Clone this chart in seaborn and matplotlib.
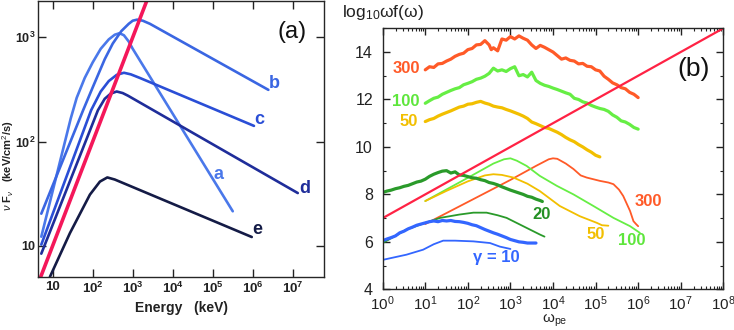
import numpy as np
import pandas as pd
import matplotlib
matplotlib.use("Agg")
import matplotlib.pyplot as plt
import seaborn as sns
from matplotlib.ticker import FixedLocator, FixedFormatter, LogLocator, NullFormatter, MultipleLocator

# ---------------- Panel (a) data: log10(E / keV), log10(nu F_nu) ----------------
a_logE = [0.715, 1.45, 1.6, 1.8, 2.0, 2.2, 2.4, 2.55, 2.67, 2.78, 2.9, 3.0, 5.5]
a_logF = [1.086, 2.22, 2.42, 2.61, 2.76, 2.89, 2.98, 3.025, 3.04, 3.02, 2.96, 2.89, 1.33]
b_logE = [0.715, 1.76, 2.0, 2.3, 2.5, 2.715, 2.9, 3.0, 3.11, 3.25, 3.43, 6.39]
b_logF = [1.307, 2.30, 2.52, 2.79, 2.94, 3.06, 3.13, 3.16, 3.17, 3.16, 3.13, 2.496]
c_logE = [0.715, 1.96, 2.2, 2.4, 2.6, 2.78, 2.95, 3.18, 6.03]
c_logF = [1.01, 2.30, 2.48, 2.58, 2.64, 2.66, 2.645, 2.61, 2.15]
d_logE = [0.715, 2.13, 2.3, 2.45, 2.6, 2.75, 2.88, 7.125]
d_logF = [0.923, 2.30, 2.41, 2.46, 2.48, 2.465, 2.44, 1.505]
e_logE = [0.93, 1.43, 1.93, 2.18, 2.365, 2.55, 5.975]
e_logF = [0.70, 1.12, 1.49, 1.615, 1.655, 1.635, 1.083]
red_a_logE = [0.6, 3.4]
red_a_logF = [0.6, 3.4]
curve_names_a = ["a", "b", "c", "d", "e"]
label_pos_a = {"a": (5.14, 1.68), "b": (6.53, 2.56), "c": (6.165, 2.215),
               "d": (7.29, 1.553), "e": (6.10, 1.153)}
xticks_a = [1, 2, 3, 4, 5, 6, 7]
yticks_a = [1, 2, 3]

# ---------------- Panel (b) data: log10(omega_pe), log10 omega f(omega) ----------------
# thick (noisy) curves
t300_x = [1.0, 1.1, 1.2, 1.3, 1.4, 1.5, 1.6, 1.7, 1.8, 1.9, 2.0, 2.1, 2.2, 2.3, 2.4, 2.5, 2.55, 2.6, 2.7, 2.8,
          2.9, 3.0, 3.1, 3.2, 3.3, 3.4, 3.5, 3.6, 3.7, 3.8, 3.9, 4.0, 4.1, 4.2, 4.3, 4.4, 4.5, 4.6, 4.7, 4.8,
          4.9, 5.0, 5.1, 5.2, 5.3, 5.4, 5.5, 5.6, 5.7, 5.8, 5.9, 6.0]
t300_y = [13.25, 13.38, 13.35, 13.5, 13.52, 13.62, 13.7, 13.82, 13.9, 13.95, 14.1, 14.15, 14.3, 14.32, 14.48, 14.3, 14.1, 14.18, 14.05, 14.55,
          14.5, 14.65, 14.55, 14.68, 14.58, 14.5, 14.3, 14.15, 14.28, 14.2, 14.1, 14.0, 13.85, 13.7, 13.75, 13.65, 13.62, 13.5, 13.52, 13.4,
          13.38, 13.25, 13.2, 12.98, 12.85, 12.7, 12.62, 12.5, 12.45, 12.3, 12.22, 12.08]
t100_x = [1.0, 1.1, 1.2, 1.3, 1.4, 1.5, 1.6, 1.7, 1.8, 1.9, 2.0, 2.1, 2.2, 2.3, 2.4, 2.5, 2.6, 2.7, 2.8, 2.9,
          3.0, 3.1, 3.2, 3.3, 3.4, 3.5, 3.6, 3.7, 3.8, 3.9, 4.0, 4.1, 4.2, 4.3, 4.4, 4.5, 4.6, 4.7, 4.8, 4.9,
          5.0, 5.1, 5.2, 5.3, 5.4, 5.5, 5.6, 5.7, 5.8, 5.9, 6.0]
t100_y = [11.84, 11.95, 12.05, 12.1, 12.22, 12.3, 12.38, 12.45, 12.5, 12.62, 12.68, 12.75, 12.85, 12.9, 12.98, 13.1, 13.32, 13.2, 13.25, 13.18,
          13.3, 13.38, 13.0, 13.05, 12.95, 13.15, 12.8, 12.68, 12.6, 12.55, 12.48, 12.42, 12.35, 12.28, 12.22, 12.05, 12.0, 11.9, 11.85, 11.75,
          11.68, 11.62, 11.58, 11.5, 11.35, 11.25, 11.1, 11.05, 10.95, 10.82, 10.75]
t50_x = [1.0, 1.1, 1.2, 1.3, 1.4, 1.5, 1.6, 1.7, 1.8, 1.9, 2.0, 2.1, 2.2, 2.3, 2.4, 2.5, 2.6, 2.7, 2.8, 2.9,
         3.0, 3.1, 3.2, 3.3, 3.4, 3.5, 3.6, 3.7, 3.8, 3.9, 4.0, 4.1, 4.2, 4.3, 4.4, 4.5, 4.6, 4.7, 4.8, 4.9,
         5.0, 5.1]
t50_y = [11.07, 11.15, 11.2, 11.3, 11.38, 11.45, 11.52, 11.6, 11.68, 11.72, 11.8, 11.82, 11.88, 11.92, 11.85, 11.8, 11.72, 11.68, 11.65, 11.58,
         11.52, 11.45, 11.38, 11.3, 11.2, 11.05, 10.98, 10.9, 10.82, 10.78, 10.7, 10.62, 10.52, 10.4, 10.3, 10.22, 10.1, 10.0, 9.88, 9.78,
         9.65, 9.58]
t20_x = [0.0, 0.1, 0.2, 0.3, 0.4, 0.5, 0.6, 0.7, 0.8, 0.9, 1.0, 1.1, 1.2, 1.3, 1.4, 1.5, 1.6, 1.7, 1.8, 1.9,
         2.0, 2.1, 2.2, 2.3, 2.4, 2.5, 2.6, 2.7, 2.8, 2.9, 3.0, 3.1, 3.2, 3.3, 3.4, 3.5, 3.6, 3.7, 3.75]
t20_y = [8.08, 8.14, 8.18, 8.24, 8.28, 8.34, 8.38, 8.45, 8.52, 8.56, 8.64, 8.76, 8.85, 8.92, 8.98, 9.0, 8.9, 8.95, 8.82, 8.8,
         8.75, 8.7, 8.68, 8.62, 8.58, 8.5, 8.46, 8.4, 8.32, 8.25, 8.18, 8.12, 8.06, 8.0, 7.92, 7.88, 7.8, 7.74, 7.7]
t10_x = [0.0, 0.1, 0.2, 0.3, 0.4, 0.5, 0.6, 0.7, 0.8, 0.9, 1.0, 1.1, 1.2, 1.3, 1.4, 1.5, 1.6, 1.7, 1.8, 1.9,
         2.0, 2.1, 2.2, 2.3, 2.4, 2.5, 2.6, 2.7, 2.8, 2.9, 3.0, 3.1, 3.2, 3.3, 3.4, 3.5, 3.6]
t10_y = [6.05, 6.12, 6.18, 6.25, 6.38, 6.45, 6.55, 6.62, 6.7, 6.75, 6.8, 6.85, 6.88, 6.85, 6.9, 6.88, 6.9, 6.86, 6.85, 6.82,
         6.78, 6.72, 6.68, 6.6, 6.52, 6.45, 6.38, 6.32, 6.25, 6.18, 6.1, 6.05, 6.0, 5.98, 5.95, 5.95, 5.95]
# thin (smooth) curves
s300_x = [1.0, 2.0, 3.0, 3.6, 3.9, 4.0, 4.1, 4.3, 4.48, 4.65, 4.79, 5.1, 5.3, 5.42, 5.55, 5.65, 5.81, 5.89, 5.95, 6.0]
s300_y = [6.75, 7.68, 8.61, 9.2, 9.48, 9.52, 9.5, 9.3, 9.07, 8.8, 8.71, 8.57, 8.5, 8.43, 8.2, 7.93, 7.3, 6.87, 6.75, 6.66]
s100_x = [1.0, 2.0, 2.6, 2.85, 3.0, 3.15, 3.38, 3.69, 4.09, 4.48, 4.95, 5.42, 5.81, 6.04]
s100_y = [7.72, 8.7, 9.3, 9.48, 9.52, 9.42, 9.2, 8.78, 8.36, 8.0, 7.51, 7.01, 6.66, 6.38]
s50_x = [1.0, 1.5, 2.0, 2.4, 2.6, 2.8, 3.07, 3.4, 3.69, 4.16, 4.63, 5.03, 5.15, 5.3]
s50_y = [7.72, 8.15, 8.55, 8.8, 8.85, 8.82, 8.71, 8.45, 8.14, 7.51, 7.08, 6.8, 6.7, 6.68]
s20_x = [0.0, 0.56, 1.0, 1.35, 1.8, 2.13, 2.44, 2.7, 2.91, 3.3, 3.69, 3.8]
s20_y = [5.95, 6.52, 6.8, 7.01, 7.15, 7.23, 7.23, 7.12, 7.01, 6.66, 6.31, 6.22]
s10_x = [0.0, 0.56, 0.95, 1.2, 1.42, 1.7, 2.13, 2.52, 2.75, 3.0]
s10_y = [5.24, 5.46, 5.67, 5.9, 6.05, 6.05, 6.02, 5.95, 5.8, 5.7]
red_b_x = [0.0, 8.0]
red_b_y = [7.0, 15.0]
labels_b = [("300", 0.55, 13.31, "#ff5a28"), ("100", 0.55, 11.92, "#5ee63c"), ("50", 0.62, 11.09, "#f2bf00"),
            ("20", 3.73, 7.16, "#249024"), ("γ = 10", 2.68, 5.32, "#3366ff"), ("50", 5.01, 6.31, "#f2bf00"),
            ("100", 5.85, 6.06, "#5ee63c"), ("300", 6.24, 7.69, "#ff5a28")]
xticks_b = [0, 1, 2, 3, 4, 5, 6, 7, 8]
yticks_b = [4, 6, 8, 10, 12, 14]

# ---------------- style ----------------
sns.set_style("ticks")
plt.rcParams['font.family'] = ['Liberation Sans', 'DejaVu Sans']
plt.rcParams['mathtext.fontset'] = 'custom'
plt.rcParams['mathtext.rm'] = 'Liberation Sans'
plt.rcParams['mathtext.it'] = 'Liberation Sans:italic'
plt.rcParams['mathtext.bf'] = 'Liberation Sans:bold'
plt.rcParams['axes.linewidth'] = 1.0

fig = plt.figure(figsize=(7.34, 3.30), dpi=100)
axA = fig.add_axes([38 / 734, 53 / 330, 286 / 734, 276 / 330])
axB = fig.add_axes([382.7 / 734, 40.7 / 330, 340.6 / 734, 261 / 330])

def P(v):
    return np.power(10.0, np.asarray(v, dtype=float))

# ---------------- Panel (a) ----------------
axA.set_xscale('log')
axA.set_yscale('log')
colors_a = {"a": "#4a78ea", "b": "#3a66e2", "c": "#2a4ed6", "d": "#1f2d9a", "e": "#141b46"}
data_a = {"a": (a_logE, a_logF), "b": (b_logE, b_logF), "c": (c_logE, c_logF),
          "d": (d_logE, d_logF), "e": (e_logE, e_logF)}
for name in curve_names_a:
    xe, yf = data_a[name]
    df = pd.DataFrame({"E": P(xe), "F": P(yf)})
    sns.lineplot(data=df, x="E", y="F", ax=axA, color=colors_a[name], lw=1.9,
                 sort=False, estimator=None, legend=False)
    lx, ly = label_pos_a[name]
    axA.text(P(lx), P(ly), name, color=colors_a[name], fontsize=13, fontweight='bold',
             ha='center', va='center')
dfr = pd.DataFrame({"E": P(red_a_logE), "F": P(red_a_logF)})
sns.lineplot(data=dfr, x="E", y="F", ax=axA, color="#f4175a", lw=2.6, sort=False,
             estimator=None, legend=False)
axA.set_xlim(4.29, 6.03e7)
axA.set_ylim(5.0, 2234)
axA.xaxis.set_major_locator(FixedLocator(P(xticks_a)))
axA.xaxis.set_major_formatter(FixedFormatter(["10"] + [r"$\mathbf{10^{%d}}$" % k for k in xticks_a[1:]]))
axA.yaxis.set_major_locator(FixedLocator(P(yticks_a)))
axA.yaxis.set_major_formatter(FixedFormatter(["10"] + [r"$\mathbf{10^{%d}}$" % k for k in yticks_a[1:]]))
axA.xaxis.set_minor_locator(FixedLocator([]))
axA.yaxis.set_minor_locator(FixedLocator([]))
axA.tick_params(which='major', direction='in', length=6, width=1, top=True, right=True,
                labelsize=9.5, pad=3, color='#222222')
axA.tick_params(axis='y', pad=2, labelsize=9)
for t in axA.get_xticklabels() + axA.get_yticklabels():
    t.set_fontweight('bold')
    t.set_color('#222222')
axA.set_xlabel("")
axA.set_ylabel("")
axA.text(P(6.975), P(3.055), "(a)", fontsize=17, ha='center', va='center', color='#111111')
fig.text(181.7 / 734, 1 - 308 / 330, "Energy   (keV)", fontsize=10, fontweight='bold',
         ha='center', va='center', color='#222222')
fig.text(8.5 / 734, 1 - 166 / 330, r"$\nu$ F$_\nu$   (keV/cm$^2$/s)", fontsize=8, fontweight='bold',
         rotation=90, ha='center', va='center', color='#222222')

# ---------------- Panel (b) ----------------
axB.set_xscale('log')
thin = [(s300_x, s300_y, "#ff5a28"), (s100_x, s100_y, "#66ee44"), (s50_x, s50_y, "#f2bf00"),
        (s20_x, s20_y, "#2a9a2a"), (s10_x, s10_y, "#3366ff")]
thick = [(t300_x, t300_y, "#ff5a28"), (t100_x, t100_y, "#66ee44"), (t50_x, t50_y, "#f2bf00"),
         (t20_x, t20_y, "#2a9a2a"), (t10_x, t10_y, "#3366ff")]
for xs, ys, col in thin:
    df = pd.DataFrame({"w": P(xs), "f": ys})
    sns.lineplot(data=df, x="w", y="f", ax=axB, color=col, lw=1.3, sort=False,
                 estimator=None, legend=False)
for xs, ys, col in thick:
    df = pd.DataFrame({"w": P(xs), "f": ys})
    sns.lineplot(data=df, x="w", y="f", ax=axB, color=col, lw=2.3, sort=False,
                 estimator=None, legend=False)
dfrb = pd.DataFrame({"w": P(red_b_x), "f": red_b_y})
sns.lineplot(data=dfrb, x="w", y="f", ax=axB, color="#ff2244", lw=1.6, sort=False,
             estimator=None, legend=False)
for txt, lx, ly, col in labels_b:
    axB.text(P(lx), ly, txt, color=col, fontsize=12, fontweight='bold', ha='center', va='center')
axB.text(P(7.29), 13.27, "(b)", fontsize=19, ha='center', va='center', color='#111111')
axB.set_xlim(1, 1e8)
axB.set_ylim(4, 15)
axB.xaxis.set_major_locator(FixedLocator(P(xticks_b)))
axB.xaxis.set_major_formatter(FixedFormatter([r"$10^{%d}$" % k for k in xticks_b]))
axB.xaxis.set_minor_locator(LogLocator(base=10, subs=np.arange(2, 10), numticks=20))
axB.xaxis.set_minor_formatter(NullFormatter())
axB.yaxis.set_major_locator(FixedLocator(yticks_b))
axB.yaxis.set_minor_locator(MultipleLocator(1))
axB.tick_params(which='major', direction='in', length=5, width=1, top=True, right=True,
                labelsize=11, pad=4, color='#222222', labelcolor='#222222')
axB.tick_params(axis='y', which='major', pad=7, labelsize=11.5)
axB.tick_params(which='minor', direction='in', length=2.5, width=0.8, top=True, right=True,
                color='#222222')
axB.set_xlabel("")
axB.set_ylabel("")
fig.text(341.7 / 734, 1 - 12 / 330, r"log$_{10}$ωf(ω)", fontsize=12.5, ha='left', va='center',
         color='#222222')
fig.text(555 / 734, 1 - 320.5 / 330, r"ω$_{\rm pe}$", fontsize=11, ha='center', va='center',
         color='#222222')

fig.savefig("out.png", dpi=100)
